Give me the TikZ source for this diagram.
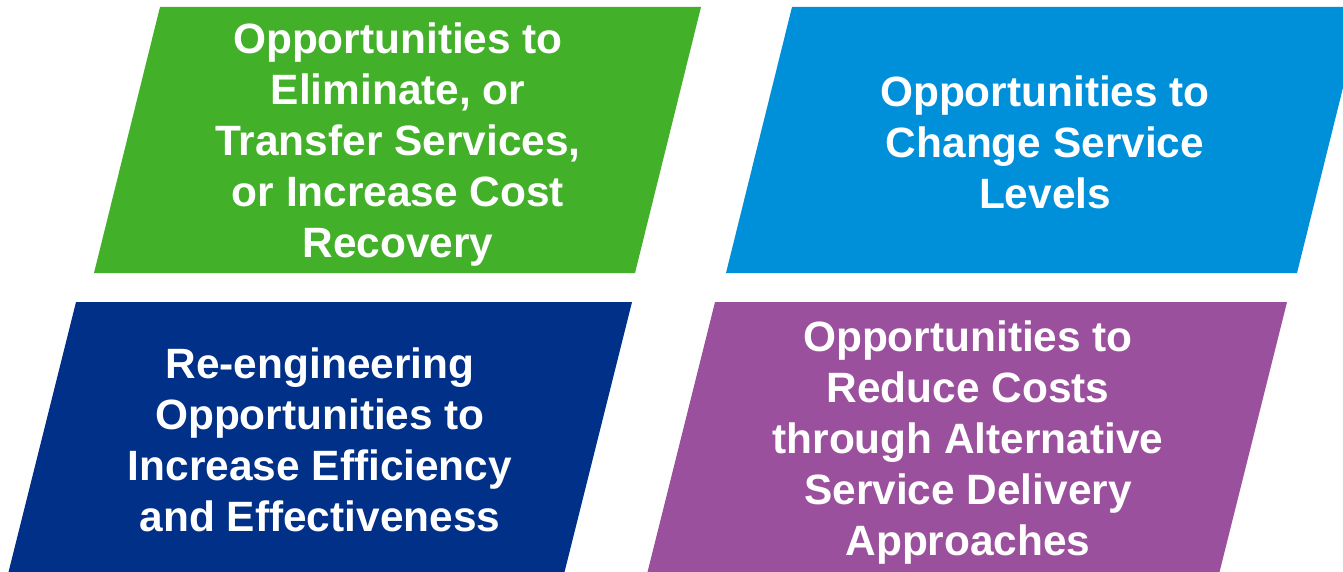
\documentclass[tikz,border=0pt]{standalone}
\usepackage{fontspec}
\setmainfont{Liberation Sans}
\definecolor{cgreen}{RGB}{67,176,42}
\definecolor{cblue}{RGB}{0,144,218}
\definecolor{cnavy}{RGB}{0,48,135}
\definecolor{cpurple}{RGB}{155,80,157}
\begin{document}
\begin{tikzpicture}[x=1pt,y=-1pt,
  lbl/.style={text=white,align=center,inner sep=0pt,font=\fontsize{42.4}{51}\selectfont\bfseries}]
\path[use as bounding box] (0,0) rectangle (1343,572);
\clip (0,0) rectangle (1343,572);
\fill[cgreen] (160,7) -- (701,7) -- (635,273) -- (94,273) -- cycle;
\fill[cblue] (792,7) -- (1363,7) -- (1297,273) -- (726,273) -- cycle;
\fill[cnavy] (76,302) -- (632,302) -- (564,574) -- (8,574) -- cycle;
\fill[cpurple] (715,302) -- (1287,302) -- (1219,574) -- (647,574) -- cycle;
\node[lbl] (t1) at (398,145) {Opportunities to\\Eliminate, or\\Transfer Services,\\or Increase Cost\\Recovery};
\node[lbl] (t2) at (1045,142) {Opportunities to\\Change Service\\Levels};
\node[lbl] (t3) at (320,440) {Re-engineering\\Opportunities to\\Increase Efficiency\\and Effectiveness};
\node[lbl] (t4) at (968,443) {Opportunities to\\Reduce Costs\\through Alternative\\Service Delivery\\Approaches};
\end{tikzpicture}
\end{document}
